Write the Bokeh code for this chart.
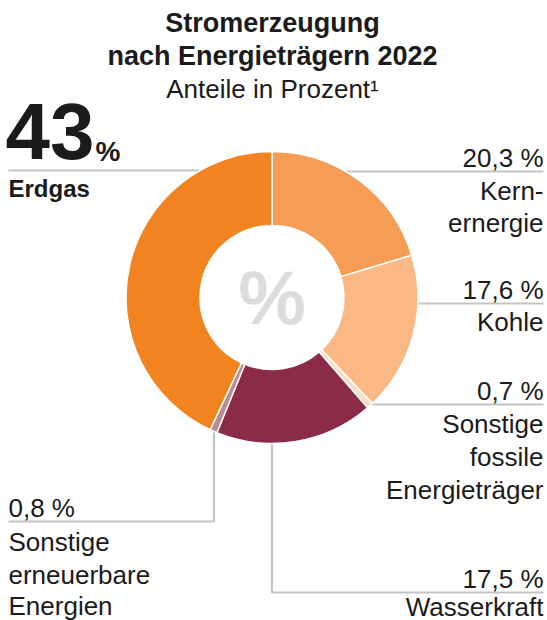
import numpy as np
from bokeh.plotting import figure
from bokeh.models import Range1d, ColumnDataSource
from bokeh.core.properties import value
from bokeh.embed import file_html
from bokeh.resources import INLINE

# ---- data (clockwise from 12 o'clock) ----
categories = ["Kernenergie", "Kohle", "Sonstige fossile Energieträger",
              "Wasserkraft", "Sonstige erneuerbare Energien", "Erdgas"]
shares = [20.3, 17.6, 0.7, 17.5, 0.8, 43.0]
colors = ["#F59D55", "#FAB885", "#FBDDC3", "#8B2B47", "#B88C90", "#F18421"]
share_labels = ["20,3 %", "17,6 %", "0,7 %", "17,5 %", "0,8 %", "43"]

title_lines = ["Stromerzeugung", "nach Energieträgern 2022"]
subtitle = "Anteile in Prozent\u00b9"

W, H = 547, 620
p = figure(width=W, height=H, output_backend="svg", toolbar_location=None,
           x_range=Range1d(0, 547), y_range=Range1d(0, 620),
           min_border=0)
p.axis.visible = False
p.grid.visible = False
p.outline_line_color = None
p.background_fill_color = "white"
p.border_fill_color = "white"

def Y(sy):
    return 620 - sy

CX, CY = 271.5, Y(297)
R_OUT, R_IN = 146, 72

FONT = value("Liberation Sans")
TXT = "#1b1b1b"
GRAY = "#c4c4c4"

# ---- leader lines (drawn under donut) ----
p.line([8, CX], [Y(170), Y(170)], line_color=GRAY, line_width=2.2)
p.line([CX, 543], [Y(171), Y(171)], line_color=GRAY, line_width=2.2)
p.line([CX, 543], [Y(303), Y(303)], line_color=GRAY, line_width=2.2)
p.line([CX, 543], [Y(404), Y(404)], line_color=GRAY, line_width=2.2)
p.line([8, 213.5, 213.5], [Y(521), Y(521), CY], line_color=GRAY, line_width=2.2)
p.line([CX, CX, 543], [CY, Y(592), Y(592)], line_color=GRAY, line_width=2.2)

# ---- donut ----
vals = np.array(shares)
frac = vals / vals.sum()
cum = np.concatenate([[0], np.cumsum(frac)])
start = np.pi / 2 - 2 * np.pi * cum[:-1]
end = np.pi / 2 - 2 * np.pi * cum[1:]
src = ColumnDataSource(dict(x=[CX] * len(vals), y=[CY] * len(vals),
                            start=start, end=end, color=colors, cat=categories))
p.annular_wedge(x="x", y="y", inner_radius=R_IN, outer_radius=R_OUT,
                start_angle="start", end_angle="end", direction="clock",
                fill_color="color", line_color="white", line_width=1.5, source=src)
# white hole (hides the leader lines behind the centre)
p.circle(x=[CX], y=[CY], radius=R_IN - 0.5, fill_color="white", line_color=None)

# centre percent sign
p.text([CX], [CY], text=["%"], text_font=FONT, text_font_style="bold",
       text_font_size="76px", text_color="#dcdcdc", text_align="center",
       text_baseline="middle")

# ---- titles ----
p.text([272], [Y(22)], text=[title_lines[0]], text_font=FONT, text_font_style="bold",
       text_font_size="27px", text_color=TXT, text_align="center", text_baseline="middle")
p.text([272], [Y(55)], text=[title_lines[1]], text_font=FONT, text_font_style="bold",
       text_font_size="27px", text_color=TXT, text_align="center", text_baseline="middle")
p.text([272], [Y(88)], text=[subtitle], text_font=FONT,
       text_font_size="26px", text_color=TXT, text_align="center", text_baseline="middle")

# ---- Erdgas big label ----
p.text([5], [Y(131)], text=[share_labels[5]], text_font=FONT, text_font_style="bold",
       text_font_size="80px", text_color=TXT, text_align="left", text_baseline="middle")
p.text([95], [Y(151)], text=["%"], text_font=FONT, text_font_style="bold",
       text_font_size="28px", text_color=TXT, text_align="left", text_baseline="middle")
p.text([8], [Y(188)], text=[categories[5]], text_font=FONT, text_font_style="bold",
       text_font_size="24px", text_color=TXT, text_align="left", text_baseline="middle")

# ---- right-side labels ----
right_texts = [share_labels[0], "Kern-", "ernergie",
               share_labels[1], "Kohle",
               share_labels[2], "Sonstige", "fossile", "Energieträger",
               share_labels[3], "Wasserkraft"]
right_y = [157, 190, 222, 289, 321, 390, 423, 456, 489, 578, 606]
p.text([543] * len(right_texts), [Y(v) for v in right_y], text=right_texts,
       text_font=FONT, text_font_size="26px", text_color=TXT,
       text_align="right", text_baseline="middle")

# ---- left-bottom labels ----
left_texts = [share_labels[4], "Sonstige", "erneuerbare", "Energien"]
left_y = [507, 541, 574, 605]
p.text([8] * len(left_texts), [Y(v) for v in left_y], text=left_texts,
       text_font=FONT, text_font_size="26px", text_color=TXT,
       text_align="left", text_baseline="middle")

open("out.html", "w").write(file_html(p, INLINE))
